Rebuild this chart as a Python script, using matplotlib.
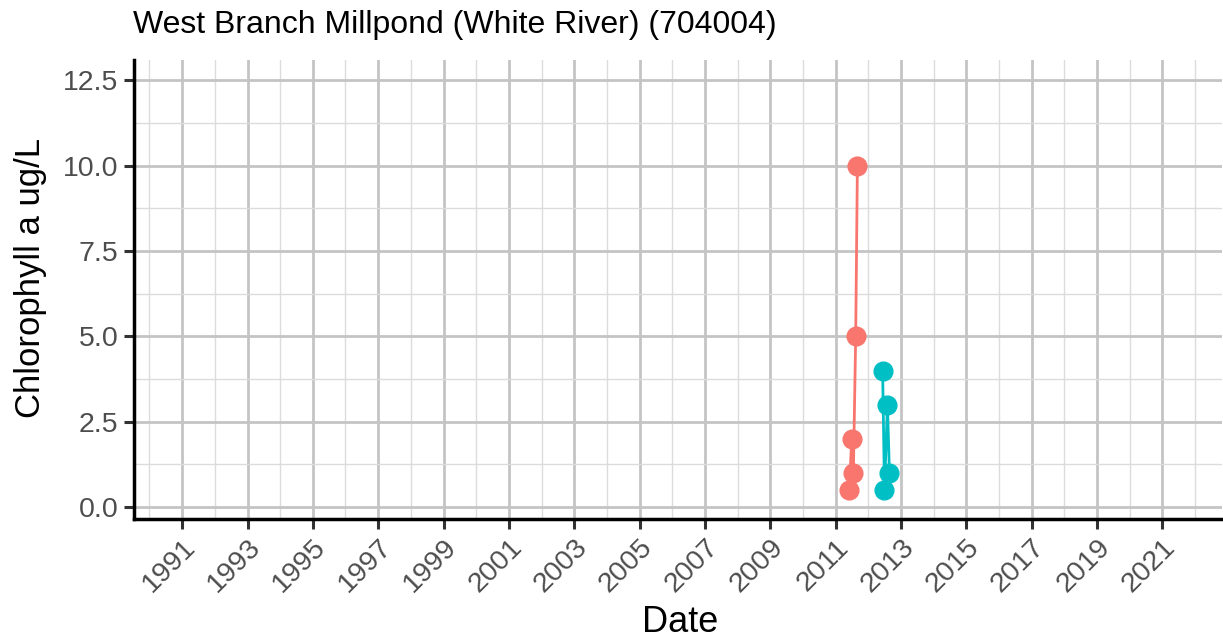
import datetime as dt
import matplotlib
matplotlib.use("Agg")
import matplotlib.pyplot as plt
import matplotlib.dates as mdates
from matplotlib.ticker import MultipleLocator

plt.rcParams['font.family'] = ['Liberation Sans', 'DejaVu Sans']

title = "West Branch Millpond (White River) (704004)"
y_label = "Chlorophyll a ug/L"
x_label = "Date"

red_dates = ["2011-06-03", "2011-07-01", "2011-07-19", "2011-08-14", "2011-09-02"]
red_values = [0.5, 2.0, 1.0, 5.0, 10.0]
teal_dates = ["2012-06-10", "2012-07-01", "2012-08-03", "2012-08-25"]
teal_values = [4.0, 0.5, 3.0, 1.0]

x_tick_years = list(range(1991, 2022, 2))
y_ticks = [0.0, 2.5, 5.0, 7.5, 10.0, 12.5]


def to_dates(lst):
    return [dt.datetime.strptime(s, "%Y-%m-%d") for s in lst]


fig = plt.figure(figsize=(12.23, 6.43), dpi=100)
ax = fig.add_axes([134 / 1223, 1 - 519 / 643, (1222 - 134) / 1223, (519 - 60) / 643])

for d, v, c in [(red_dates, red_values, "#F8766D"), (teal_dates, teal_values, "#00BFC4")]:
    ax.plot(to_dates(d), v, color=c, lw=2, marker="o", ms=13.5, zorder=3)

ax.set_xlim(dt.datetime(1989, 7, 12), dt.datetime(2022, 10, 30))
ax.set_ylim(-0.35, 13.1)

ax.set_xticks([dt.datetime(y, 1, 1) for y in x_tick_years])
ax.set_xticklabels([str(y) for y in x_tick_years], rotation=45, ha="right",
                   rotation_mode="anchor", fontsize=20.5, color="#4D4D4D")
ax.set_xticks([dt.datetime(y, 1, 1) for y in range(1990, 2023, 2)], minor=True)
ax.set_yticks(y_ticks)
ax.set_yticklabels([f"{v:.1f}" for v in y_ticks], fontsize=20.5, color="#4D4D4D")
ax.yaxis.set_minor_locator(MultipleLocator(1.25))

ax.grid(which="major", color="#C4C4C4", lw=2)
ax.grid(which="minor", color="#DCDCDC", lw=1)
ax.set_axisbelow(True)

ax.tick_params(which="major", length=7, width=2.2, color="#333333", pad=4)
ax.tick_params(which="minor", length=0)
for s in ["top", "right"]:
    ax.spines[s].set_visible(False)
for s in ["left", "bottom"]:
    ax.spines[s].set_linewidth(2.5)
    ax.spines[s].set_color("black")

ax.set_xlabel(x_label, fontsize=26)
ax.xaxis.set_label_coords((680 - 134) / 1088, -(623 - 519) / 459)
ax.xaxis.label.set_va("center")
ax.set_ylabel(y_label, fontsize=25)
ax.yaxis.set_label_coords(-(134 - 31) / 1088, (519 - 278) / 459)
ax.yaxis.label.set_va("center")
fig.text(133 / 1223, 1 - 25 / 643, title, fontsize=23, va="center", ha="left")

fig.savefig("out.png", dpi=100)
